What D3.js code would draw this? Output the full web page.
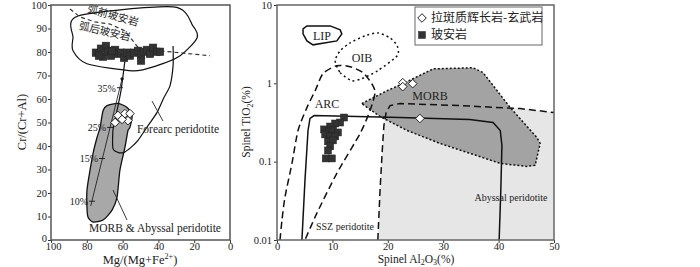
<!DOCTYPE html>
<html><head><meta charset="utf-8">
<script src="https://cdn.jsdelivr.net/npm/d3@7"></script>
<style>body{margin:0;background:#fff}svg{display:block}text{font-family:"Liberation Serif","Times New Roman",serif;fill:#222}</style>
</head><body>
<svg id="c" width="700" height="267"></svg>
<script>
// ---------- Left panel data: Mg# vs Cr# ----------
const boniniteField = [[84.9,95.3],[31.8,99.2],[20.7,91.1],[18.4,86.0],[27.9,78.4],[40.8,74.2],[54.2,72.0],[79.9,75.0],[87.7,80.5],[87.7,86.0]];
const boniniteDivide = [[89.4,98.3],[83.8,94.9],[75.4,92.8],[67.0,91.9],[58.7,89.0],[54.2,84.7],[50.3,80.9],[39.1,80.5],[11.2,78.4]];
const forearcField = [[58.7,76.3],[60.9,63.6],[63.7,53.0],[65.4,46.6],[65.4,39.0],[62.6,37.3],[59.2,37.3],[55.3,39.4],[51.4,42.4],[45.8,48.7],[40.8,54.2],[36.9,60.6],[33.5,65.7],[31.8,74.2],[31.8,82.6]];
const morbAbyssalField = [[68.7,57.2],[62.6,58.1],[57.5,56.4],[54.7,53.0],[55.9,47.9],[57.0,46.6],[58.7,39.4],[61.5,29.7],[63.1,18.2],[65.9,12.7],[70.9,8.5],[76.5,7.6],[79.3,9.7],[79.9,13.6],[79.9,21.2],[78.2,29.7],[76.5,36.9],[74.3,43.6],[72.6,47.9],[70.9,55.1]];
const meltTrend = [[77.8,14.5],[60.3,68.6]];
const meltTicks = [{label:"10%",x:77.1,y:16.5},{label:"15%",x:71.5,y:34.7},{label:"25%",x:67.0,y:47.9},{label:"35%",x:61.5,y:64.8}];
const boninitesL = [[74.9,79.7],[72.1,81.4],[70.9,78.0],[69.3,82.6],[68.2,80.1],[66.5,78.4],[64.2,80.9],[62.6,79.2],[60.9,79.7],[59.2,77.5],[57.5,79.7],[55.9,78.4],[53.6,79.7],[51.4,80.5],[49.7,78.8],[49.7,76.3],[48.0,80.1],[46.4,80.9],[44.7,79.2],[43.0,81.8],[40.8,80.1],[39.1,80.1],[73.2,78.4],[65.9,80.5]];
const gabbroL = [[62.6,53.0],[58.7,53.8],[55.9,53.8],[64.2,50.0],[57.0,50.8],[60.3,51.3]];
const leftXTicks = [100,80,60,40,20,0];
const leftYTicks = [0,10,20,30,40,50,60,70,80,90,100];

// ---------- Right panel data: Al2O3 vs TiO2 ----------
const abyssalBoundary = [[18.2,0.01],[18.6,0.0433],[19.0,0.139],[19.3,0.29],[19.7,0.424],[20.4,0.52],[22.2,0.552],[33.0,0.52],[43.9,0.476],[50,0.424]];
const morbField = [[15.3,0.552],[19.9,0.807],[22.7,0.99],[28.2,1.53],[35.4,1.58],[37.2,1.37],[42.1,0.49],[46.9,0.204],[47.5,0.171],[46.6,0.0897],[45.1,0.087],[40.3,0.095],[34.8,0.128],[29.4,0.171],[23.5,0.25],[18.6,0.377]];
const sszField = [[4.5,0.01],[5.05,0.058],[5.6,0.25],[5.96,0.356],[6.7,0.388],[22.2,0.366],[34.8,0.345],[39.0,0.316],[40.3,0.25],[40.6,0.161],[40.4,0.0433],[40.1,0.01]];
const arcField = [[0.54,0.01],[0.9,0.018],[1.44,0.0352],[2.7,0.095],[3.8,0.25],[5.4,0.49],[6.9,0.807],[8.3,1.33],[10.8,1.68],[13.2,1.63],[15.5,1.37],[17.1,0.99],[17.7,0.76],[16.8,0.45],[15.0,0.229],[10.8,0.071],[7.2,0.022],[5.05,0.01]];
const oibField = [[10.5,1.94],[11.4,1.37],[13.5,1.08],[15.3,1.15],[18.2,1.45],[21.7,2.25],[21.7,3.0],[20.4,3.8],[18.2,4.4],[15.9,4.04],[13.2,3.29],[11.4,2.6]];
const lipField = [[4.7,4.95],[5.4,5.41],[9.6,5.41],[11.4,4.81],[11.7,4.28],[10.8,3.48],[6.5,3.1],[5.4,3.48],[4.7,4.28]];
const boninitesR = [[12.1,0.366],[11.4,0.316],[10.5,0.307],[9.6,0.281],[8.5,0.258],[9.4,0.243],[10.1,0.25],[11.0,0.236],[8.7,0.223],[9.6,0.21],[10.5,0.21],[9.2,0.182],[10.1,0.187],[9.6,0.157],[9.2,0.139],[8.8,0.110],[9.9,0.110]];
const gabbroR = [[22.7,1.02],[22.7,0.907],[24.5,0.99],[25.8,0.356]];
const rightXTicks = [0,10,20,30,40,50];
const rightYTicks = [0.01,0.1,1,10];
const legendLabels = ["拉斑质辉长岩-玄武岩","玻安岩"];

const svg = d3.select("#c");
const cjk = '"Noto Sans CJK SC","Noto Sans CJK JP",sans-serif';

function diamond(g, x, y, s){ g.append("path").attr("d",`M${x},${y-s}L${x+s},${y}L${x},${y+s}L${x-s},${y}Z`).attr("fill","#fff").attr("stroke","#222").attr("stroke-width",1); }
function square(g, x, y, s){ g.append("rect").attr("x",x-s/2).attr("y",y-s/2).attr("width",s).attr("height",s).attr("fill","#333").attr("stroke","#222").attr("stroke-width",0.5); }

// ================= LEFT =================
const xL = d3.scaleLinear().domain([100,0]).range([51,230]);
const yL = d3.scaleLinear().domain([0,100]).range([240,5]);
const gL = svg.append("g");
const lineL = d3.line().x(d=>xL(d[0])).y(d=>yL(d[1]));

gL.append("path").datum(morbAbyssalField).attr("d",lineL.curve(d3.curveCardinalClosed.tension(0.3))).attr("fill","#a8a8a8").attr("stroke","#111").attr("stroke-width",1.3);
gL.append("path").datum(boniniteField).attr("d",lineL.curve(d3.curveCardinalClosed.tension(0.2))).attr("fill","none").attr("stroke","#111").attr("stroke-width",1.2);
gL.append("path").datum(forearcField).attr("d",lineL.curve(d3.curveCardinal.tension(0.3))).attr("fill","none").attr("stroke","#111").attr("stroke-width",1.2);
gL.append("path").datum(boniniteDivide).attr("d",lineL.curve(d3.curveLinear)).attr("fill","none").attr("stroke","#333").attr("stroke-width",1.2).attr("stroke-dasharray","4,3");
gL.append("path").datum(meltTrend).attr("d",lineL.curve(d3.curveLinear)).attr("fill","none").attr("stroke","#222").attr("stroke-width",0.9);
gL.append("circle").attr("cx",xL(meltTrend[1][0])).attr("cy",yL(meltTrend[1][1])).attr("r",1.6).attr("fill","#111");
meltTicks.forEach(t=>{
  gL.append("line").attr("x1",xL(t.x)-3).attr("x2",xL(t.x)+3).attr("y1",yL(t.y)).attr("y2",yL(t.y)).attr("stroke","#222").attr("stroke-width",1);
  gL.append("text").attr("x",xL(t.x)-4).attr("y",yL(t.y)+4).attr("text-anchor","end").attr("font-size",10).text(t.label);
});
boninitesL.forEach(d=>square(gL,xL(d[0]),yL(d[1]),7.5));
gabbroL.forEach(d=>diamond(gL,xL(d[0]),yL(d[1]),4.3));

// labels & pointers
gL.append("line").attr("x1",152).attr("y1",101).attr("x2",163).attr("y2",121).attr("stroke","#222").attr("stroke-width",0.9);
gL.append("text").attr("x",178).attr("y",133).attr("text-anchor","middle").attr("font-size",11.5).text("Forearc peridotite");
gL.append("line").attr("x1",113).attr("y1",190).attr("x2",127).attr("y2",220).attr("stroke","#222").attr("stroke-width",0.9);
gL.append("text").attr("x",155).attr("y",232).attr("text-anchor","middle").attr("font-size",11.5).text("MORB & Abyssal peridotite");
gL.append("text").attr("transform","translate(112,19) rotate(16)").attr("text-anchor","middle").attr("font-size",10.5).style("font-family",cjk).text("弧前玻安岩");
gL.append("text").attr("transform","translate(104,35) rotate(13)").attr("text-anchor","middle").attr("font-size",10.5).style("font-family",cjk).text("弧后玻安岩");

// axes
const axL = gL.append("g").attr("transform","translate(0,240)").call(d3.axisBottom(xL).tickValues(leftXTicks).tickSize(3).tickPadding(1).tickSizeOuter(0));
const ayL = gL.append("g").attr("transform","translate(51,0)").call(d3.axisLeft(yL).tickValues(leftYTicks).tickSize(3).tickPadding(1).tickSizeOuter(0));
[axL,ayL].forEach(a=>{a.select(".domain").remove();a.selectAll("text").attr("font-size",10.5).style("font-family",'"Liberation Serif",serif').attr("fill","#222");a.selectAll("line").attr("stroke","#333");});
ayL.selectAll("text").attr("dy",d=>d===0?"0.1em":"0.3em");
axL.selectAll("text").attr("dy","0.6em").attr("dx",d=>d===100?"2":"0");
gL.append("rect").attr("x",51).attr("y",5).attr("width",179).attr("height",235).attr("fill","none").attr("stroke","#555").attr("stroke-width",1.5);
gL.append("text").attr("transform","translate(26,122) rotate(-90)").attr("text-anchor","middle").attr("font-size",12.5).text("Cr/(Cr+Al)");
const xt = gL.append("text").attr("x",140).attr("y",264).attr("text-anchor","middle").attr("font-size",12.5);
xt.append("tspan").text("Mg/(Mg+Fe");
xt.append("tspan").attr("dy",-5).attr("font-size",8).text("2+");
xt.append("tspan").attr("dy",5).text(")");

// ================= RIGHT =================
const xR = d3.scaleLinear().domain([0,50]).range([277,554]);
const yR = d3.scaleLog().domain([0.01,10]).range([240,5]);
const gR = svg.append("g");
const lineR = d3.line().x(d=>xR(d[0])).y(d=>yR(d[1]));

const abyssalPoly = abyssalBoundary.concat([[50,0.01]]);
gR.append("path").datum(abyssalPoly).attr("d",lineR.curve(d3.curveLinear)).attr("fill","#e6e6e6").attr("stroke","none");
gR.append("path").datum(morbField).attr("d",lineR.curve(d3.curveLinearClosed)).attr("fill","#a3a3a3").attr("stroke","#111").attr("stroke-width",1.5).attr("stroke-dasharray","2,2");
gR.append("path").datum(abyssalBoundary).attr("d",lineR.curve(d3.curveLinear)).attr("fill","none").attr("stroke","#111").attr("stroke-width",1.5).attr("stroke-dasharray","7,4");
gR.append("path").datum(sszField).attr("d",lineR.curve(d3.curveLinear)).attr("fill","none").attr("stroke","#111").attr("stroke-width",1.5);
gR.append("path").datum(arcField).attr("d",lineR.curve(d3.curveCardinal.tension(0.3))).attr("fill","none").attr("stroke","#111").attr("stroke-width",1.5).attr("stroke-dasharray","7,4");
gR.append("path").datum(oibField).attr("d",lineR.curve(d3.curveCardinalClosed.tension(0.3))).attr("fill","none").attr("stroke","#111").attr("stroke-width",1.5).attr("stroke-dasharray","2,3");
gR.append("path").datum(lipField).attr("d",lineR.curve(d3.curveLinearClosed)).attr("fill","none").attr("stroke","#111").attr("stroke-width",1.5);

boninitesR.forEach(d=>square(gR,xR(d[0]),yR(d[1]),7));
gabbroR.forEach(d=>diamond(gR,xR(d[0]),yR(d[1]),4.3));

gR.append("text").attr("x",322).attr("y",40).attr("text-anchor","middle").attr("font-size",12).text("LIP");
gR.append("text").attr("x",362).attr("y",62).attr("text-anchor","middle").attr("font-size",12).text("OIB");
gR.append("text").attr("x",327).attr("y",108).attr("text-anchor","middle").attr("font-size",12).text("ARC");
gR.append("text").attr("x",430).attr("y",100).attr("text-anchor","middle").attr("font-size",12).text("MORB");
gR.append("text").attr("x",345).attr("y",230).attr("text-anchor","middle").attr("font-size",10).text("SSZ peridotite");
gR.append("text").attr("x",511).attr("y",201).attr("text-anchor","middle").attr("font-size",10).text("Abyssal peridotite");

const axR = gR.append("g").attr("transform","translate(0,240)").call(d3.axisBottom(xR).tickValues(rightXTicks).tickFormat(d3.format("d")).tickSize(3).tickPadding(1).tickSizeOuter(0));
const ayR = gR.append("g").attr("transform","translate(277,0)").call(d3.axisLeft(yR).tickValues(rightYTicks).tickFormat(d=>String(d)).tickSize(3).tickPadding(2).tickSizeOuter(0));
[axR,ayR].forEach(a=>{a.select(".domain").remove();a.selectAll("text").attr("font-size",10.5).style("font-family",'"Liberation Serif",serif').attr("fill","#222");a.selectAll("line").attr("stroke","#333");});
ayR.selectAll("text").attr("dy","0.3em");
axR.selectAll("text").attr("dy","0.6em");
gR.append("rect").attr("x",277).attr("y",5).attr("width",277).attr("height",235).attr("fill","none").attr("stroke","#666").attr("stroke-width",1.5);

const yt = gR.append("text").attr("transform","translate(250,122) rotate(-90)").attr("text-anchor","middle").attr("font-size",11.5);
yt.append("tspan").text("Spinel TiO");
yt.append("tspan").attr("dy",2.5).attr("font-size",8).text("2");
yt.append("tspan").attr("dy",-2.5).text("(%)");
const xt2 = gR.append("text").attr("x",416).attr("y",263).attr("text-anchor","middle").attr("font-size",11.5);
xt2.append("tspan").text("Spinel Al");
xt2.append("tspan").attr("dy",2).attr("font-size",8).text("2");
xt2.append("tspan").attr("dy",-2).text("O");
xt2.append("tspan").attr("dy",2).attr("font-size",8).text("3");
xt2.append("tspan").attr("dy",-2).text("(%)");

// legend
const lg = gR.append("g");
lg.append("rect").attr("x",415).attr("y",7).attr("width",127).attr("height",38).attr("fill","#fff").attr("stroke","#666").attr("stroke-width",1);
diamond(lg,422,18,4.3);
square(lg,422,35,7);
legendLabels.forEach((t,i)=>lg.append("text").attr("x",431).attr("y",22+i*17).attr("font-size",12).style("font-family",cjk).text(t));
</script>
</body></html>
